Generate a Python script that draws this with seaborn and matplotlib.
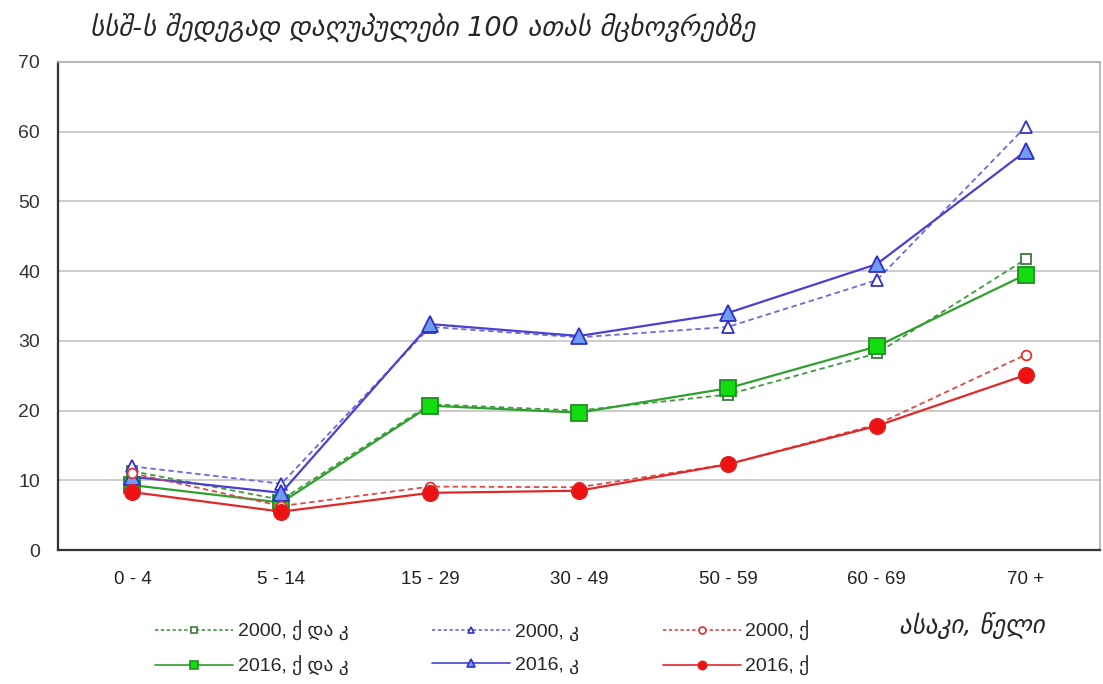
import matplotlib
matplotlib.use("Agg")
import matplotlib.pyplot as plt
import numpy as np
import pandas as pd
import seaborn as sns

sns.set_theme(style="white")
plt.rcParams["font.family"] = ["Liberation Sans", "DejaVu Sans"]

# --- data (deaths per 100k) ---
age_groups = ["0 - 4", "5 - 14", "15 - 29", "30 - 49", "50 - 59", "60 - 69", "70 +"]

both_2000 = [11.3, 7.2, 20.9, 20.0, 22.3, 28.2, 41.7]
both_2016 = [9.3, 6.8, 20.7, 19.7, 23.2, 29.2, 39.5]
men_2000 = [12.0, 9.5, 32.0, 30.5, 32.0, 38.7, 60.7]
men_2016 = [10.5, 8.2, 32.4, 30.7, 34.0, 41.0, 57.2]
women_2000 = [11.0, 6.3, 9.1, 9.0, 12.3, 18.0, 28.0]
women_2016 = [8.3, 5.5, 8.2, 8.5, 12.3, 17.8, 25.1]

labels = ["2000, ქ და კ", "2016, ქ და კ", "2000, კ", "2016, კ", "2000, ქ", "2016, ქ"]
title = "სსშ-ს შედეგად დაღუპულები 100 ათას მცხოვრებზე"
xlabel = "ასაკი, წელი"

# (values, line colour, marker, face colour, edge colour, dashed, marker size)
series = [
    (both_2000, "#3f9a3f", "s", "white", "#3a7a3a", True, 7),
    (both_2016, "#2fa02f", "s", "#11dd11", "#1f8f1f", False, 11),
    (men_2000, "#6a6ae0", "^", "white", "#3030c8", True, 8),
    (men_2016, "#4a40d0", "^", "#6f9cf0", "#3030c8", False, 12),
    (women_2000, "#e04848", "o", "white", "#e03030", True, 7),
    (women_2016, "#e02828", "o", "#ee1111", "#e02020", False, 11),
]

fig = plt.figure(figsize=(11.03, 6.84), dpi=100)
ax = fig.add_axes([0.0526, 0.1959, 0.9447, 0.7135])

x = np.arange(len(age_groups))
handles = []
for (vals, col, mk, fc, ec, dashed, ms), lab in zip(series, labels):
    df = pd.DataFrame({"x": x, "y": vals})
    sns.lineplot(data=df, x="x", y="y", ax=ax, color=col,
                 linestyle=(0, (3, 2)) if dashed else "-",
                 linewidth=1.3 if dashed else 1.6,
                 marker=mk, markersize=ms, markerfacecolor=fc,
                 markeredgecolor=ec, markeredgewidth=1.3, label=lab)
    h, = ax.plot([], [], color=col, linestyle=(0, (2, 1.5)) if dashed else "-",
                 linewidth=1.2, marker=mk, markersize=5 if dashed else 6,
                 markerfacecolor=fc, markeredgecolor=ec, markeredgewidth=1.2)
    handles.append(h)

if ax.get_legend():
    ax.get_legend().remove()

ax.set_xlim(-0.5, len(age_groups) - 0.5)
ax.set_ylim(0, 70)
ax.set_yticks(range(0, 71, 10))
ax.set_xticks(x)
ax.set_xticklabels(age_groups, fontsize=13.5, color="#222222")
ax.tick_params(axis="y", labelsize=14, colors="#333333", length=0, pad=13)
ax.tick_params(axis="x", length=0, pad=15)
ax.set_xlabel("")
ax.set_ylabel("")
ax.yaxis.grid(True, color="#c4c4c4", linewidth=1.2)
ax.set_axisbelow(True)

for side in ("top", "right"):
    ax.spines[side].set_color("#b0b0b0")
    ax.spines[side].set_linewidth(1.2)
for side in ("left", "bottom"):
    ax.spines[side].set_color("#333333")
    ax.spines[side].set_linewidth(1.6)

fig.text(0.082, 0.958, title, fontsize=19.5, style="italic",
         family=["DejaVu Sans"], va="center", ha="left")
fig.text(0.815, 0.086, xlabel, fontsize=18, style="italic",
         family=["DejaVu Sans"], va="center", ha="left")

fig.legend(handles, labels, ncol=3, loc="lower left",
           bbox_to_anchor=(0.125, -0.014), frameon=False, fontsize=14,
           handlelength=4.0, handletextpad=0.25, columnspacing=4.3,
           labelspacing=0.75)

fig.savefig("out.png", dpi=100)
